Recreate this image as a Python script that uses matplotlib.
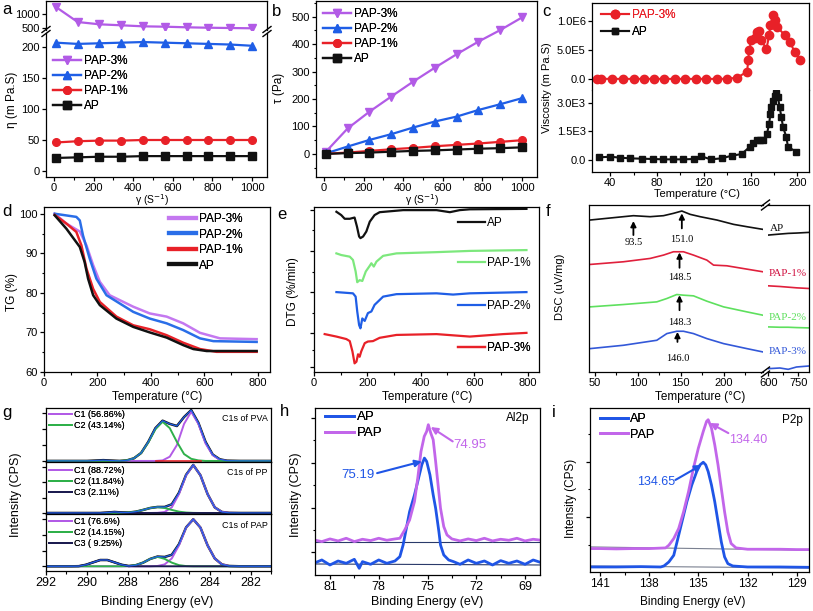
import matplotlib
matplotlib.use('Agg')
import matplotlib.pyplot as plt
from matplotlib.lines import Line2D
from matplotlib.ticker import MultipleLocator, FixedLocator, NullLocator

# ------------------------------------------------------------------ data
labels_rheo = ['PAP-3%', 'PAP-2%', 'PAP-1%', 'AP']
shear_rate = [10, 120, 230, 340, 450, 560, 670, 780, 890, 1000]
eta_pap3 = [1250, 714, 632, 597, 560, 547, 525, 510, 500, 490]
eta_pap2 = [207, 205, 206, 207, 208, 207, 206, 205, 204, 202]
eta_pap1 = [46, 48, 49, 49, 50, 50, 50, 50, 50, 50]
eta_ap = [21, 22, 23, 23, 24, 24, 24, 24, 24, 24]
tau_pap3 = [8, 93, 154, 209, 263, 314, 363, 409, 451, 497]
tau_pap2 = [2, 27, 51, 72, 96, 118, 136, 160, 181, 203]
tau_pap1 = [0.5, 5, 11, 17, 22, 28, 33, 38, 44, 50]
tau_ap = [0.2, 3, 5, 8, 11, 13, 16, 19, 21, 24]

c_T_pap = [28.7, 32.1, 41.5, 50.9, 59.9, 68.5, 77.6, 86.4, 95.2, 104.3, 113.1, 121.9,
           131.0, 140.1, 148.6, 157.1, 158.0, 158.8, 160.8, 163.6, 165.6, 167.3, 169.3,
           173.6, 175.9, 177.0, 179.3, 180.7, 182.7, 189.2, 193.5, 197.7, 202.0]
c_visc_pap = [3e3, 3e3, 2e3, 2e3, 2e3, 2e3, 2e3, 2e3, 2e3, 2e3, 2e3, 2e3,
              2e3, 3e3, 2.3e4, 1.26e5, 3.25e5, 4.97e5, 6.68e5, 6.96e5, 7.99e5, 8.22e5, 6.68e5,
              5.08e5, 7.53e5, 9.25e5, 1.096e6, 1.01e6, 8.96e5, 7.53e5, 6.39e5, 4.68e5, 3.25e5]
c_T_ap = [30.1, 40.1, 48.6, 57.1, 67.0, 76.4, 85.5, 94.0, 102.6, 111.6, 117.3, 125.9,
          135.2, 143.8, 152.3, 159.4, 162.2, 165.1, 167.9, 170.7, 174.1, 175.9, 177.0,
          177.8, 179.3, 180.7, 182.1, 183.5, 184.9, 186.4, 187.8, 190.6, 192.0, 199.1]
c_visc_ap = [138, 172, 121, 86, 69, 52, 34, 34, 34, 52, 207, 34,
             86, 224, 310, 690, 900, 1035, 1035, 1035, 1380, 1900, 2414,
             2760, 3100, 3360, 3530, 3276, 2760, 2240, 1724, 1207, 690, 431]

tg_T_ap = [40, 84, 134, 152, 165, 184, 209, 271, 334, 396, 459, 521, 559, 609, 796]
tg_ap = [99.6, 96.2, 91.6, 87.8, 83.6, 79.4, 76.9, 73.5, 71.4, 70.0, 68.7, 66.8, 65.8, 65.3, 65.3]
tg_T_pap1 = [40, 84, 121, 140, 159, 184, 209, 271, 334, 396, 459, 521, 584, 646, 796]
tg_pap1 = [99.7, 97.5, 95.4, 92.0, 86.1, 81.0, 77.7, 74.0, 71.8, 70.8, 69.3, 67.4, 65.8, 65.1, 65.1]
tg_T_pap2 = [40, 121, 134, 146, 171, 196, 234, 334, 396, 459, 521, 584, 634, 796]
tg_pap2 = [100.0, 99.2, 98.3, 94.5, 88.7, 83.6, 79.4, 75.2, 73.5, 72.3, 70.6, 68.5, 67.8, 67.6]
tg_T_pap3 = [40, 84, 134, 159, 184, 209, 246, 334, 396, 459, 521, 584, 659, 796]
tg_pap3 = [100.0, 97.5, 95.5, 92.0, 87.0, 82.8, 79.4, 76.5, 74.8, 74.0, 72.3, 69.9, 68.5, 68.3]

dtg_T_ap = [84, 102, 115, 134, 152, 161, 169, 174, 184, 196, 209, 227, 246, 334, 396, 459, 509, 546, 584, 796]
dtg_ap = [2.95, 2.87, 2.78, 2.78, 2.81, 2.59, 2.35, 2.31, 2.35, 2.47, 2.71, 2.87, 2.94, 2.99, 2.99, 2.99, 2.94, 2.99, 3.01, 3.02]
dtg_T_pap1 = [84, 102, 134, 146, 156, 162, 171, 181, 194, 209, 215, 224, 234, 259, 309, 459, 584, 796]
dtg_pap1 = [1.94, 1.90, 1.86, 1.78, 1.50, 1.24, 1.29, 1.27, 1.50, 1.64, 1.70, 1.62, 1.74, 1.88, 1.94, 1.97, 2.00, 2.02]
dtg_T_pap2 = [84, 146, 156, 162, 169, 174, 181, 190, 202, 215, 227, 259, 309, 459, 521, 584, 796]
dtg_pap2 = [1.00, 0.97, 0.89, 0.53, 0.20, 0.12, 0.36, 0.30, 0.49, 0.53, 0.69, 0.89, 0.95, 0.97, 0.94, 0.97, 1.00]
dtg_T_pap3 = [40, 84, 121, 134, 144, 152, 159, 165, 171, 177, 190, 202, 221, 246, 309, 459, 584, 709, 796]
dtg_pap3 = [-0.02, -0.08, -0.14, -0.19, -0.44, -0.73, -0.69, -0.51, -0.57, -0.44, -0.24, -0.20, -0.19, -0.11, -0.04, -0.02, -0.08, -0.02, 0.01]

dsc_T_ap = [44.2, 63.6, 83.1, 94.8, 114.3, 129.9, 141.5, 151.3, 161.0, 172.7, 192.2, 211.7, 227.2, 246.0]
dsc_ap = [4.55, 4.60, 4.65, 4.68, 4.65, 4.68, 4.75, 4.82, 4.72, 4.65, 4.55, 4.42, 4.35, 4.27]
dsc_T_pap1 = [44.2, 83.1, 114.3, 129.9, 141.5, 153.2, 164.9, 180.5, 188.3, 203.8, 227.2, 246.0]
dsc_pap1 = [3.22, 3.30, 3.40, 3.50, 3.60, 3.60, 3.50, 3.35, 3.20, 3.18, 3.08, 3.00]
dsc_T_pap23 = [44.2, 83.1, 122.1, 133.8, 145.4, 153.2, 164.9, 180.5, 200.0, 227.2, 246.0]
dsc_pap2 = [1.95, 2.02, 2.10, 2.20, 2.32, 2.30, 2.28, 2.12, 1.95, 1.80, 1.70]
dsc_pap3 = [0.70, 0.80, 0.95, 1.15, 1.22, 1.22, 1.15, 1.00, 0.85, 0.70, 0.60]
dsc_T_high = [600, 658, 700, 742, 805]
dsc_ap_high = [4.10, 4.13, 4.15, 4.16, 4.18]
dsc_pap1_high = [2.58, 2.56, 2.54, 2.52, 2.50]
dsc_pap2_high = [1.35, 1.34, 1.34, 1.33, 1.32]
dsc_pap3_high = [0.10, 0.12, 0.08, 0.15, 0.18]
dsc_peak_T = [94.8, 151.3, 148.6, 148.6, 146.2]
dsc_peak_labels = ['93.5', '151.0', '148.5', '148.3', '146.0']

pva_ev = [292.0, 290.0, 289.2, 288.4, 288.05, 287.7, 287.35, 287.0, 286.65, 286.3, 285.95,
          285.6, 285.25, 284.9, 284.55, 284.2, 283.85, 283.5, 283.15, 282.5, 281.0]
pva_env = [0, 0, 0.015, 0.0, 0.01, 0.05, 0.15, 0.36, 0.62, 0.76, 0.70,
           0.66, 0.83, 0.96, 0.72, 0.36, 0.12, 0.03, 0.005, 0, 0]
pva_c1 = [0, 0, 0, 0, 0, 0, 0, 0, 0, 0.01, 0.08, 0.30, 0.70, 0.93, 0.70, 0.33, 0.11, 0.02, 0, 0, 0]
pva_c2 = [0, 0, 0, 0, 0.01, 0.05, 0.15, 0.35, 0.60, 0.74, 0.62, 0.36, 0.13, 0.04, 0.01, 0, 0, 0, 0, 0, 0]
pva_bg_ev = [286.6, 284.4]
pva_bg = [0.0, 0.0]
pva_labels = ['C1 (56.86%)', 'C2 (43.14%)']

pp_ev = [292.0, 289.35, 289.0, 288.65, 288.3, 287.95, 287.6, 287.25, 286.9, 286.55, 286.2,
         285.85, 285.5, 285.15, 284.8, 284.45, 284.1, 283.75, 283.4, 283.05, 282.5, 281.0]
pp_c1 = [0, 0, 0, 0, 0, 0, 0, 0, 0, 0.003, 0.02, 0.11, 0.37, 0.74, 0.94, 0.74, 0.37, 0.11, 0.02, 0.003, 0, 0]
pp_c2 = [0, 0, 0, 0, 0.002, 0.009, 0.026, 0.06, 0.098, 0.115, 0.098, 0.06, 0.026, 0.009, 0.002, 0, 0, 0, 0, 0, 0, 0]
pp_c3 = [0, 0, 0.008, 0.02, 0.008, 0, 0, 0, 0, 0, 0, 0, 0, 0, 0, 0, 0, 0, 0, 0, 0, 0]
pp_env = [0, 0, 0.008, 0.02, 0.01, 0.009, 0.026, 0.06, 0.098, 0.118, 0.118, 0.17, 0.396, 0.749, 0.942, 0.74, 0.37, 0.11, 0.02, 0.003, 0, 0]
pp_labels = ['C1 (88.72%)', 'C2 (11.84%)', 'C3 (2.11%)']

pap_ev = [292.0, 290.75, 290.4, 290.05, 289.7, 289.35, 289.0, 288.65, 288.3, 287.95, 287.6, 287.25, 286.9,
          286.55, 286.2, 285.85, 285.5, 285.15, 284.8, 284.45, 284.1, 283.75, 283.4, 283.05, 282.5, 281.0]
pap_c1 = [0] * 13 + [0.006, 0.036, 0.15, 0.40, 0.74, 0.90, 0.74, 0.40, 0.15, 0.036, 0.006, 0, 0]
pap_c2 = [0] * 9 + [0.004, 0.022, 0.07, 0.142, 0.18, 0.142, 0.07, 0.022, 0.004] + [0] * 8
pap_c3 = [0, 0, 0.002, 0.029, 0.075, 0.12, 0.12, 0.075, 0.029, 0.002] + [0] * 16
pap_env = [0, 0, 0.002, 0.029, 0.075, 0.12, 0.12, 0.075, 0.029, 0.006, 0.022, 0.07, 0.142,
           0.186, 0.178, 0.22, 0.422, 0.744, 0.90, 0.74, 0.40, 0.15, 0.036, 0.006, 0, 0]
pap_labels = ['C1 (76.6%)', 'C2 (14.15%)', 'C3 ( 9.25%)']

h_pap_ev = [82.0, 81.5, 81.0, 80.5, 80.0, 79.5, 79.0, 78.5, 78.0, 77.5, 77.0, 76.7, 76.4, 76.1, 75.8,
            75.6, 75.4, 75.2, 75.05, 74.95, 74.8, 74.65, 74.5, 74.35, 74.2, 74.0, 73.8, 73.5, 73.0,
            72.5, 72.0, 71.5, 71.0, 70.5, 70.0, 69.5, 69.0, 68.5, 68.0]
h_pap = [105, 100, 108, 102, 110, 100, 107, 103, 110, 104, 108, 110, 135, 165, 220,
         290, 370, 415, 430, 450, 425, 405, 340, 270, 200, 145, 120, 108, 102,
         108, 103, 110, 102, 107, 104, 110, 102, 107, 104]
h_ap_ev = [82.0, 81.5, 81.0, 80.5, 80.0, 79.5, 79.2, 79.0, 78.5, 78.0, 77.5, 77.0, 76.7, 76.5, 76.3,
           76.1, 75.8, 75.55, 75.35, 75.19, 75.05, 74.85, 74.65, 74.5, 74.3, 74.2, 74.0, 73.7, 73.4,
           73.0, 72.5, 72.0, 71.5, 71.0, 70.5, 70.0, 69.5, 69.0, 68.5, 68.0]
h_ap = [35, 45, 30, 42, 35, 47, 20, 40, 32, 45, 35, 42, 55, 90, 140,
        190, 240, 290, 330, 350, 340, 300, 240, 200, 130, 90, 60, 45, 40,
        32, 45, 35, 42, 30, 43, 35, 42, 32, 45, 37]
h_bg_ev = [82.0, 68.0]
h_pap_bg = [100, 100]
h_ap_bg = [33, 30]

i_pap_ev = [141.6, 141.0, 140.0, 139.0, 138.0, 137.0, 136.8, 136.5, 136.2, 135.9, 135.6, 135.3, 135.0,
            134.7, 134.5, 134.4, 134.2, 134.0, 133.8, 133.6, 133.4, 133.2, 133.0, 132.7, 132.0, 131.0,
            130.0, 129.0, 128.25]
i_pap = [70, 70, 69, 70, 70, 72, 80, 100, 130, 180, 240, 310, 370,
         420, 450, 455, 430, 380, 320, 250, 180, 120, 85, 72, 68, 68, 68, 67, 67]
i_ap_ev = [141.6, 140.0, 138.5, 137.3, 137.1, 136.8, 136.5, 136.3, 136.0, 135.7, 135.4, 135.1, 134.9,
           134.7, 134.55, 134.4, 134.2, 134.0, 133.8, 133.6, 133.4, 133.2, 132.9, 132.0, 130.0, 128.25]
i_ap = [15, 15, 16, 15, 18, 30, 50, 90, 150, 210, 260, 300, 320,
        328, 320, 300, 260, 210, 150, 90, 45, 25, 18, 15, 15, 14]
i_bg_ev = [141.6, 128.25]
i_pap_bg = [75, 65]
i_ap_bg = [18, 12]

# ------------------------------------------------------------------ style
W, H = 813, 611
plt.rcParams['font.family'] = ['Liberation Sans', 'DejaVu Sans']
plt.rcParams['font.size'] = 8
plt.rcParams['axes.linewidth'] = 0.9
for k in ('xtick', 'ytick'):
    plt.rcParams[k + '.direction'] = 'out'
    plt.rcParams[k + '.major.size'] = 3
    plt.rcParams[k + '.minor.size'] = 1.8
    plt.rcParams[k + '.major.width'] = 0.9
    plt.rcParams[k + '.minor.width'] = 0.8
    plt.rcParams[k + '.labelsize'] = 8
    plt.rcParams[k + '.major.pad'] = 1.5
plt.rcParams['legend.numpoints'] = 1

VIO = '#b25be6'
BLU = '#1f5ee6'
RED = '#e82128'
BLK = '#111111'
LGRN = '#7de87d'
GRN = '#2fb04a'
NAVY = '#1c1c50'
SERIF = ['Liberation Serif', 'DejaVu Serif']

fig = plt.figure(figsize=(W / 100, H / 100), dpi=100)


def axpx(l, t, r, b):
    return fig.add_axes([l / W, 1 - b / H, (r - l) / W, (b - t) / H])


def ftext(x, y, s, **kw):
    fig.text(x / W, 1 - y / H, s, **kw)


def fline(xs, ys, **kw):
    fig.add_artist(Line2D([x / W for x in xs], [1 - y / H for y in ys],
                          transform=fig.transFigure, **kw))


def brk(x, y):
    for off in (-2, 2):
        fline([x - 4, x + 4], [y + off + 3, y + off - 3], color='k', lw=1)


def leg(ax, handles, labels, x, y, fs=8.5, hl=2.4, ls=0.3, loc='upper left', **kw):
    lg = ax.legend(handles, labels, loc=loc, bbox_to_anchor=(x / W, 1 - y / H),
                   bbox_transform=fig.transFigure, frameon=False, borderpad=0,
                   borderaxespad=0, handlelength=hl, handletextpad=0.2,
                   labelspacing=ls, fontsize=fs, **kw)
    ax.add_artist(lg)
    return lg


# ------------------------------------------------------------------ a
axa_u = axpx(46, 1, 267, 30)
axa_l = axpx(46, 33, 267, 177)
a_series = [(eta_pap3, VIO, 'v'), (eta_pap2, BLU, '^'), (eta_pap1, RED, 'o'), (eta_ap, BLK, 's')]
for ax in (axa_u, axa_l):
    hs = []
    for (y, c, m), lab in zip(a_series, labels_rheo):
        h, = ax.plot(shear_rate, y, color=c, marker=m, ms=5.5, lw=1.6)
        hs.append(h)
    ax.set_xlim(-40, 1076)
axa_u.set_ylim(429, 1464)
axa_l.set_ylim(-9.7, 222.6)
axa_u.spines['bottom'].set_visible(False)
axa_l.spines['top'].set_visible(False)
axa_u.tick_params(axis='x', bottom=False, labelbottom=False)
axa_u.set_yticks([500, 1000])
axa_l.set_yticks([0, 50, 100, 150, 200])
axa_l.set_xticks(range(0, 1001, 200))
axa_l.xaxis.set_minor_locator(MultipleLocator(100))
leg(axa_l, hs, labels_rheo, 53, 55, fs=8.5, hl=2.4, ls=0.25)
brk(46, 31.5)
brk(267, 31.5)
ftext(12, 100, 'η (m Pa.S)', rotation=90, ha='center', va='center', fontsize=8.5)
ftext(152, 200, 'γ (S$^{-1}$)', ha='center', va='center', fontsize=7.5)

# ------------------------------------------------------------------ b
axb = axpx(316, 1, 537, 177)
b_series = [(tau_pap3, VIO, 'v'), (tau_pap2, BLU, '^'), (tau_pap1, RED, 'o'), (tau_ap, BLK, 's')]
hs = []
for (y, c, m), lab in zip(b_series, labels_rheo):
    h, = axb.plot(shear_rate, y, color=c, marker=m, ms=5.5, lw=1.6)
    hs.append(h)
axb.set_xlim(-40, 1076)
axb.set_ylim(-84, 557)
axb.set_yticks(range(0, 501, 100))
axb.yaxis.set_minor_locator(MultipleLocator(50))
axb.set_xticks(range(0, 1001, 200))
axb.xaxis.set_minor_locator(MultipleLocator(100))
leg(axb, hs, labels_rheo, 323, 8, fs=8.5, hl=2.4, ls=0.25)
ftext(279, 88, 'τ (Pa)', rotation=90, ha='center', va='center', fontsize=8.5)
ftext(422, 200, 'γ (S$^{-1}$)', ha='center', va='center', fontsize=7.5)

# ------------------------------------------------------------------ c
axc_u = axpx(592, 3, 809, 90)
axc_l = axpx(592, 90, 809, 172)
hc1, = axc_u.plot(c_T_pap, c_visc_pap, color=RED, marker='o', ms=6, lw=1.5)
hc2, = axc_l.plot(c_T_ap, c_visc_ap, color=BLK, marker='s', ms=5, lw=1.5)
for ax in (axc_u, axc_l):
    ax.set_xlim(24.4, 210)
    ax.set_xticks(range(40, 201, 40))
    ax.xaxis.set_minor_locator(MultipleLocator(20))
axc_u.set_ylim(-1.89e5, 1.304e6)
axc_l.set_ylim(-628, 3665)
axc_u.set_yticks([0, 5e5, 1e6], ['0.0', '5.0E5', '1.0E6'])
axc_l.set_yticks([0, 1500, 3000], ['0.0', '1.5E3', '3.0E3'])
axc_u.spines['bottom'].set_visible(False)
axc_l.spines['top'].set_visible(False)
axc_u.tick_params(axis='x', which='both', bottom=False, labelbottom=False)
lgc = leg(axc_u, [hc1, hc2], ['PAP-3%', 'AP'], 601, 9, fs=8.5, hl=2.4, ls=0.45)
lgc.get_texts()[0].set_color(RED)
ftext(547, 88, 'Viscosity (m Pa.S)', rotation=90, ha='center', va='center', fontsize=8)
ftext(697, 194, 'Temperature (°C)', ha='center', va='center', fontsize=8)

# ------------------------------------------------------------------ d
axd = axpx(44, 207, 270, 372)
tg = [(tg_T_pap3, tg_pap3, '#c478f0'), (tg_T_pap2, tg_pap2, '#2a6ee8'),
      (tg_T_pap1, tg_pap1, RED), (tg_T_ap, tg_ap, BLK)]
hs = []
for (x, y, c) in tg:
    axd.plot(x, y, color=c, lw=1.8)
    hs.append(Line2D([], [], color=c, lw=3))
axd.set_xlim(0, 846)
axd.set_ylim(60, 101.7)
axd.set_yticks(range(60, 101, 10))
axd.yaxis.set_minor_locator(MultipleLocator(5))
axd.set_xticks(range(0, 801, 200))
axd.xaxis.set_minor_locator(MultipleLocator(100))
leg(axd, hs, labels_rheo, 169, 213, fs=8.5, hl=2.3, ls=0.3)
ftext(12, 292, 'TG (%)', rotation=90, ha='center', va='center', fontsize=8.5)
ftext(157, 397, 'Temperature (°C)', ha='center', va='center', fontsize=8.5)

# ------------------------------------------------------------------ e
axe = axpx(314, 207, 539, 372)
dtg = [(dtg_T_ap, dtg_ap, BLK, 'AP', 0.90), (dtg_T_pap1, dtg_pap1, LGRN, 'PAP-1%', 0.659),
       (dtg_T_pap2, dtg_pap2, BLU, 'PAP-2%', 0.40), (dtg_T_pap3, dtg_pap3, RED, 'PAP-3%', 0.144)]
for x, y, c, lab, ya in dtg:
    h, = axe.plot(x, y, color=c, lw=1.6)
    lg = axe.legend([h], [lab], loc='center left', bbox_to_anchor=(0.64, ya), frameon=False,
                    borderpad=0, borderaxespad=0, handlelength=2.3, handletextpad=0.15, fontsize=8.5)
    axe.add_artist(lg)
axe.set_xlim(0, 843)
axe.set_ylim(-0.94, 3.066)
axe.yaxis.set_major_locator(FixedLocator([-0.81, 0, 1, 2, 3]))
axe.yaxis.set_minor_locator(FixedLocator([-0.4, 0.5, 1.5, 2.5]))
axe.tick_params(axis='y', labelleft=False)
axe.set_xticks(range(0, 801, 200))
axe.xaxis.set_minor_locator(MultipleLocator(100))
ftext(293, 292, 'DTG (%/min)', rotation=90, ha='center', va='center', fontsize=8.5)
ftext(427, 397, 'Temperature (°C)', ha='center', va='center', fontsize=8.5)

# ------------------------------------------------------------------ f
axf1 = axpx(589, 205, 763, 372)
axf2 = axpx(768, 205, 809, 372)
axf1.plot(dsc_T_ap, dsc_ap, color=BLK, lw=1.2)
axf1.plot(dsc_T_pap1, dsc_pap1, color='#e0203c', lw=1.2)
axf1.plot(dsc_T_pap23, dsc_pap2, color='#5ee05e', lw=1.2)
axf1.plot(dsc_T_pap23, dsc_pap3, color='#3358d8', lw=1.2)
axf2.plot(dsc_T_high, dsc_ap_high, color=BLK, lw=1.2)
axf2.plot(dsc_T_high, dsc_pap1_high, color='#e0203c', lw=1.2)
axf2.plot(dsc_T_high, dsc_pap2_high, color='#5ee05e', lw=1.2)
axf2.plot(dsc_T_high, dsc_pap3_high, color='#3358d8', lw=1.2)
for ax in (axf1, axf2):
    ax.set_ylim(0, 5)
    ax.yaxis.set_major_locator(NullLocator())
axf1.set_xlim(43, 246)
axf2.set_xlim(598, 805)
axf1.set_xticks([50, 100, 150, 200])
axf1.xaxis.set_minor_locator(FixedLocator([75, 125, 175, 225]))
axf2.set_xticks([600, 750])
axf2.xaxis.set_minor_locator(FixedLocator([675]))
axf1.spines['right'].set_visible(False)
axf2.spines['left'].set_visible(False)
tails = [4.10, 4.30, 3.12, 1.85, 0.90]
tips = [4.52, 4.75, 3.58, 2.30, 1.20]
laby = [3.88, 3.96, 2.83, 1.48, 0.40]
for T, lab, t0, t1, ly in zip(dsc_peak_T, dsc_peak_labels, tails, tips, laby):
    axf1.annotate('', xy=(T, t1), xytext=(T, t0),
                  arrowprops=dict(arrowstyle='-|>', color='k', lw=1.3, mutation_scale=8,
                                  shrinkA=0, shrinkB=0))
    axf1.text(T, ly, lab, ha='center', va='center', fontsize=7.5, family=SERIF)
brk(765.5, 205)
brk(765.5, 372)
ftext(770, 229, 'AP', ha='left', va='center', fontsize=8, family=SERIF, color=BLK)
ftext(769, 273, 'PAP-1%', ha='left', va='center', fontsize=8, family=SERIF, color='#d01040')
ftext(769, 317, 'PAP-2%', ha='left', va='center', fontsize=8, family=SERIF, color='#5ee05e')
ftext(769, 351, 'PAP-3%', ha='left', va='center', fontsize=8, family=SERIF, color='#3358d8')
ftext(560, 287, 'DSC (uV/mg)', rotation=90, ha='center', va='center', fontsize=8)
ftext(700, 397, 'Temperature (°C)', ha='center', va='center', fontsize=8.5)

# ------------------------------------------------------------------ g
axg1 = axpx(46, 408, 271, 462)
axg2 = axpx(46, 462, 271, 514)
axg3 = axpx(46, 514, 271, 571)
g_sets = [
    (axg1, pva_ev, pva_env, [pva_c1, pva_c2], pva_labels, 'C1s of PVA', (-0.02, 1.0), 410),
    (axg2, pp_ev, pp_env, [pp_c1, pp_c2, pp_c3], pp_labels, 'C1s of PP', (-0.02, 1.0), 466),
    (axg3, pap_ev, pap_env, [pap_c1, pap_c2, pap_c3], pap_labels, 'C1s of PAP', (-0.09, 1.0), 517),
]
comp_colors = [VIO, GRN, NAVY]
for ax, ev, env, comps, labs, title, yl, ly in g_sets:
    ax.plot(ev, env, color=BLK, lw=1.8)
    hs = []
    for comp, c in zip(comps, comp_colors):
        h, = ax.plot(ev, comp, color=c, lw=1.4)
        hs.append(h)
    ax.plot(ev, env, color=BLU, lw=0.9)
    ax.set_xlim(292, 281)
    ax.set_ylim(*yl)
    ax.yaxis.set_major_locator(MultipleLocator(0.3))
    ax.yaxis.set_minor_locator(NullLocator())
    ax.tick_params(axis='y', labelleft=False)
    ax.set_xticks(range(282, 293, 2))
    ax.xaxis.set_minor_locator(MultipleLocator(1))
    leg(ax, hs, labs, 49, ly, fs=6.5, hl=2.6, ls=0.22)
    ax.text(0.985, 0.80, title, transform=ax.transAxes, ha='right', va='center', fontsize=6.5)
axg1.plot(pva_bg_ev, pva_bg, color=RED, lw=1.2)
for ax in (axg1, axg2):
    ax.tick_params(axis='x', which='both', bottom=False, labelbottom=False)
axg3.tick_params(axis='x', labelsize=9)
ftext(16, 495, 'Intensity (CPS)', rotation=90, ha='center', va='center', fontsize=9)
ftext(157, 602, 'Binding Energy (eV)', ha='center', va='center', fontsize=9)

# ------------------------------------------------------------------ h
VIO_H = '#c266ea'
BLU_H = '#1f55e6'
axh = axpx(315, 408, 540, 575)
axh.plot(h_bg_ev, h_pap_bg, color='#2a3a6a', lw=0.8)
axh.plot(h_bg_ev, h_ap_bg, color='#2a3a6a', lw=0.8)
hh1, = axh.plot(h_ap_ev, h_ap, color=BLU_H, lw=2.0)
hh2, = axh.plot(h_pap_ev, h_pap, color=VIO_H, lw=2.0)
axh.set_xlim(81.92, 68.08)
axh.set_ylim(0, 500)
axh.yaxis.set_major_locator(FixedLocator([68, 200, 335, 470]))
axh.yaxis.set_minor_locator(FixedLocator([135, 268, 403]))
axh.tick_params(axis='y', labelleft=False)
axh.set_xticks([81, 78, 75, 72, 69])
axh.xaxis.set_minor_locator(MultipleLocator(1.5))
axh.tick_params(axis='x', labelsize=9)
leg(axh, [hh1, hh2], ['AP', 'PAP'], 325, 411, fs=9.5, hl=2.2, ls=0.3)
axh.annotate('', xy=(74.8, 443), xytext=(73.45, 400),
             arrowprops=dict(arrowstyle='-|>', color=VIO_H, lw=1.5, mutation_scale=10, shrinkA=0, shrinkB=0))
axh.text(72.4, 390, '74.95', color=VIO_H, ha='center', va='center', fontsize=9.5)
axh.annotate('', xy=(75.35, 340), xytext=(78.1, 305),
             arrowprops=dict(arrowstyle='-|>', color=BLU_H, lw=1.5, mutation_scale=10, shrinkA=0, shrinkB=0))
axh.text(79.25, 300, '75.19', color=BLU_H, ha='center', va='center', fontsize=9.5)
axh.text(68.7, 470, 'Al2p', ha='right', va='center', fontsize=8.5)
ftext(296, 495, 'Intensity (CPS)', rotation=90, ha='center', va='center', fontsize=9)
ftext(427, 602, 'Binding Energy (eV)', ha='center', va='center', fontsize=9)

# ------------------------------------------------------------------ i
axi = axpx(590, 408, 809, 572)
axi.plot(i_bg_ev, i_pap_bg, color='#7a8090', lw=0.8)
axi.plot(i_bg_ev, i_ap_bg, color='#7a8090', lw=0.8)
hi1, = axi.plot(i_ap_ev, i_ap, color=BLU_H, lw=2.0)
hi2, = axi.plot(i_pap_ev, i_pap, color=VIO_H, lw=2.0)
axi.set_xlim(141.61, 128.25)
axi.set_ylim(0, 490)
axi.yaxis.set_major_locator(FixedLocator([165, 330]))
axi.yaxis.set_minor_locator(FixedLocator([82, 247, 412]))
axi.tick_params(axis='y', labelleft=False)
axi.set_xticks([141, 138, 135, 132, 129])
axi.xaxis.set_minor_locator(MultipleLocator(1.5))
axi.tick_params(axis='x', labelsize=8.5)
leg(axi, [hi1, hi2], ['AP', 'PAP'], 600, 413, fs=9, hl=2.2, ls=0.3)
axi.annotate('', xy=(134.3, 445), xytext=(133.17, 415),
             arrowprops=dict(arrowstyle='-|>', color=VIO_H, lw=1.5, mutation_scale=10, shrinkA=0, shrinkB=0))
axi.text(131.95, 395, '134.40', color=VIO_H, ha='center', va='center', fontsize=9)
axi.annotate('', xy=(134.8, 320), xytext=(136.4, 275),
             arrowprops=dict(arrowstyle='-|>', color=BLU_H, lw=1.5, mutation_scale=10, shrinkA=0, shrinkB=0))
axi.text(137.55, 268, '134.65', color=BLU_H, ha='center', va='center', fontsize=9)
axi.text(128.6, 455, 'P2p', ha='right', va='center', fontsize=8.5)
ftext(571, 498, 'Intensity (CPS)', rotation=90, ha='center', va='center', fontsize=8.5)
ftext(693, 602, 'Binding Energy (eV)', ha='center', va='center', fontsize=8.5)

# ------------------------------------------------------------------ panel letters
for x, y, s in [(2, 2, 'a'), (272, 4, 'b'), (542, 4, 'c'), (2, 204, 'd'), (277, 207, 'e'),
                (546, 204, 'f'), (2, 405, 'g'), (280, 404, 'h'), (552, 405, 'i')]:
    ftext(x, y, s, fontsize=12, va='top', ha='left')

fig.savefig('out.png', dpi=100)
